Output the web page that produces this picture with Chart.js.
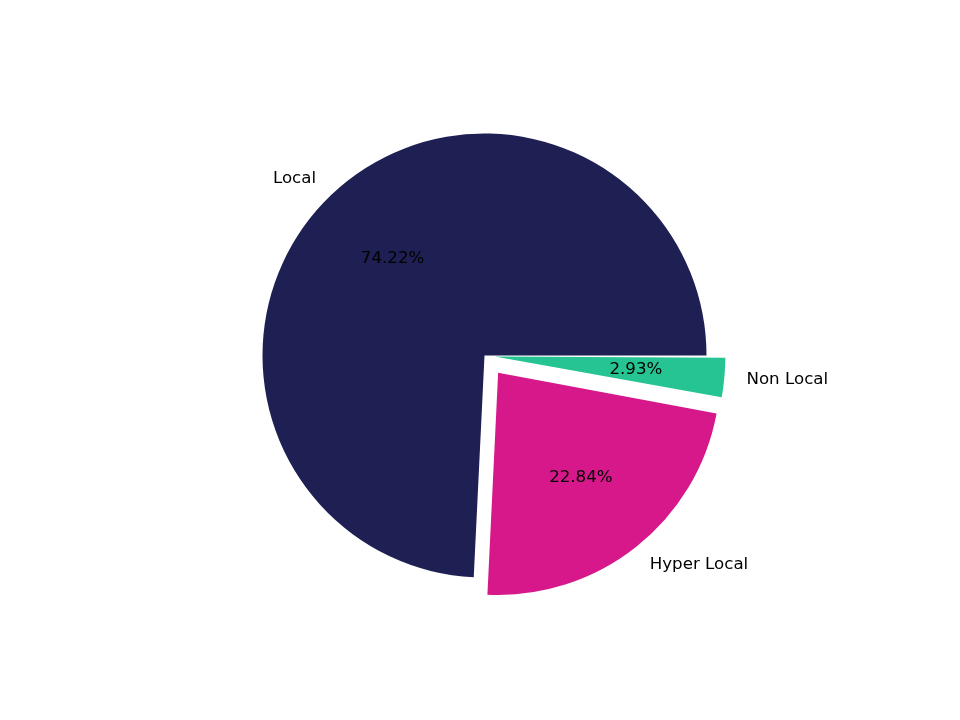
<!DOCTYPE html>
<html>
<head>
<meta charset="utf-8">
<title>Pie</title>
<script src="https://cdn.jsdelivr.net/npm/chart.js@4/dist/chart.umd.min.js"></script>
<style>
  html, body { margin: 0; padding: 0; background: #fff; }
  canvas { display: block; }
</style>
</head>
<body>
<canvas id="pieChart" width="960" height="720"></canvas>
<script>
const categories = ['Local', 'Hyper Local', 'Non Local']
const shares = [74.22, 22.84, 2.93]
const explode = [0, 0.1, 0.085]
const colors = ['#1e1f52', '#d6188a', '#25c492']

const RADIUS = 222
const FONT = '16.67px "DejaVu Sans"'

// matplotlib draws counter-clockwise from 3 o'clock, chart.js clockwise,
// so the slices go in reversed and the start is turned to 90deg
const order = [2, 1, 0]
const total = shares.reduce((a, b) => a + b, 0)

// chart.js v4 moves an arc by offset/4 and grows it by offset/4*fix,
// work back from the explode fraction to get a similar outward shift
const offsets = order.map(i => {
    const circ = shares[i] / total * Math.PI * 2
    const fix = 1 - Math.sin(Math.min(Math.PI, circ))
    return 4 * explode[i] * RADIUS / (1 + fix)
})

const pieLabels = {
    id: 'pieLabels',
    afterDatasetsDraw(chart) {
        const ctx = chart.ctx
        const meta = chart.getDatasetMeta(0)
        ctx.save()
        ctx.font = FONT
        ctx.fillStyle = '#000'
        ctx.textBaseline = 'middle'
        meta.data.forEach((arc, j) => {
            const i = order[j]
            const p = arc.getProps(['x', 'y', 'startAngle', 'endAngle', 'outerRadius'], true)
            const mid = (p.startAngle + p.endAngle) / 2
            const r = p.outerRadius
            const cx = p.x + Math.cos(mid) * explode[i] * r
            const cy = p.y + Math.sin(mid) * explode[i] * r

            // name outside
            const lx = cx + Math.cos(mid) * r * 1.1
            const ly = cy + Math.sin(mid) * r * 1.1
            ctx.textAlign = Math.cos(mid) < 0 ? 'right' : 'left'
            ctx.fillText(categories[i], lx, ly)

            // percentage inside
            ctx.textAlign = 'center'
            ctx.fillText(shares[i].toFixed(2) + '%', cx + Math.cos(mid) * r * 0.6, cy + Math.sin(mid) * r * 0.6)
        })
        ctx.restore()
    }
}

new Chart(document.getElementById('pieChart'), {
    type: 'pie',
    data: {
        labels: order.map(i => categories[i]),
        datasets: [{
            data: order.map(i => shares[i]),
            backgroundColor: order.map(i => colors[i]),
            offset: offsets,
            hoverOffset: 0,
            borderWidth: 0
        }]
    },
    options: {
        responsive: false,
        animation: false,
        devicePixelRatio: 1,
        rotation: 90,
        radius: RADIUS,
        layout: { padding: { left: 9, right: 0, top: 0, bottom: 9 } },
        events: [],
        plugins: {
            legend: { display: false },
            tooltip: { enabled: false }
        }
    },
    plugins: [pieLabels]
})
</script>
</body>
</html>
